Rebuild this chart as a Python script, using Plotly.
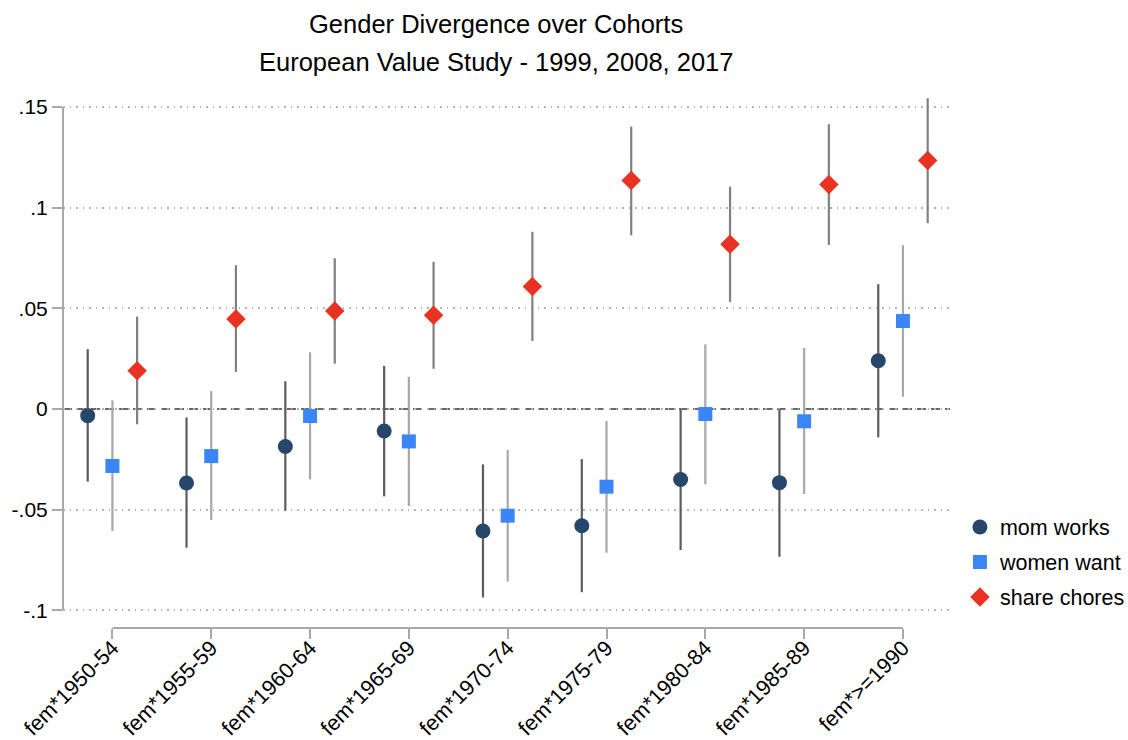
import plotly.graph_objects as go

# Cohort interaction terms (female x birth cohort)
cohorts = ["fem*1950-54", "fem*1955-59", "fem*1960-64", "fem*1965-69", "fem*1970-74",
           "fem*1975-79", "fem*1980-84", "fem*1985-89", "fem*>=1990"]

# Point estimates and 95% confidence bounds per outcome
mom_pt = [-0.0033, -0.0368, -0.0186, -0.0109, -0.0606, -0.0580, -0.0350, -0.0366, 0.0240]
mom_lo = [-0.0361, -0.0689, -0.0505, -0.0434, -0.0936, -0.0910, -0.0701, -0.0734, -0.0141]
mom_hi = [0.0297, -0.0042, 0.0138, 0.0214, -0.0275, -0.0249, 0.0002, 0.0000, 0.0620]

want_pt = [-0.0283, -0.0234, -0.0035, -0.0161, -0.0530, -0.0386, -0.0025, -0.0061, 0.0437]
want_lo = [-0.0606, -0.0552, -0.0350, -0.0482, -0.0857, -0.0714, -0.0374, -0.0422, 0.0061]
want_hi = [0.0043, 0.0089, 0.0282, 0.0160, -0.0204, -0.0060, 0.0321, 0.0303, 0.0814]

chores_pt = [0.0190, 0.0447, 0.0487, 0.0466, 0.0608, 0.1135, 0.0818, 0.1115, 0.1234]
chores_lo = [-0.0076, 0.0184, 0.0225, 0.0200, 0.0338, 0.0863, 0.0532, 0.0815, 0.0923]
chores_hi = [0.0459, 0.0714, 0.0749, 0.0731, 0.0880, 0.1403, 0.1105, 0.1415, 0.1544]

y_ticks = [-0.1, -0.05, 0, 0.05, 0.1, 0.15]
y_tick_text = ["-.1", "-.05", "0", ".05", ".1", ".15"]

FONT = "Liberation Sans, Arial, Helvetica, sans-serif"
AXIS_GRAY = "#a9a9a9"

series = [
    ("mom works", mom_pt, mom_lo, mom_hi, -0.25, "circle", 15, "#27466c", "#5c5c5c"),
    ("women want", want_pt, want_lo, want_hi, 0.0, "square", 14, "#3a86f6", "#a8a8a8"),
    ("share chores", chores_pt, chores_lo, chores_hi, 0.25, "diamond", 15, "#e83323", "#808080"),
]

fig = go.Figure()
for name, pt, lo, hi, off, sym, size, color, ci_color in series:
    fig.add_trace(go.Scatter(
        x=[i + off for i in range(len(cohorts))],
        y=pt,
        mode="markers",
        name=name,
        legendgroup=name,
        marker=dict(symbol=sym, size=size, color=color, line=dict(width=0)),
        error_y=dict(
            type="data", symmetric=False,
            array=[h - p for h, p in zip(hi, pt)],
            arrayminus=[p - l for p, l in zip(pt, lo)],
            color=ci_color, thickness=2.2, width=0,
        ),
    ))

# Zero reference line
fig.add_shape(type="line", xref="paper", x0=0, x1=1, yref="y", y0=0, y1=0,
              line=dict(color="#6a6a6a", width=2.2, dash="9px,5px"), layer="between")
# Y axis spine between the outer ticks
fig.add_shape(type="line", xref="paper", x0=0, x1=0, yref="y", y0=y_ticks[0], y1=y_ticks[-1],
              line=dict(color=AXIS_GRAY, width=2))
# X axis spine between the first and last cohort
fig.add_shape(type="line", xref="x", x0=0, x1=len(cohorts) - 1, yref="paper", y0=0, y1=0,
              line=dict(color=AXIS_GRAY, width=2))

# Two-line title
fig.add_annotation(text="Gender Divergence over Cohorts", xref="paper", yref="paper",
                   x=0.488, y=1.137, showarrow=False, xanchor="center", yanchor="middle",
                   font=dict(size=25.5, color="#000000", family=FONT))
fig.add_annotation(text="European Value Study - 1999, 2008, 2017", xref="paper", yref="paper",
                   x=0.488, y=1.066, showarrow=False, xanchor="center", yanchor="middle",
                   font=dict(size=25.5, color="#000000", family=FONT))

fig.update_layout(
    width=1128, height=740,
    margin=dict(l=63, r=178, t=97, b=112, autoexpand=False),
    paper_bgcolor="white", plot_bgcolor="white",
    font=dict(family=FONT, color="#000000"),
    showlegend=True,
    legend=dict(xref="container", yref="container", x=0.851, xanchor="left",
                y=(740 - 562) / 740, yanchor="middle",
                font=dict(size=21.5, family=FONT, color="#000000"),
                tracegroupgap=4,
                bgcolor="rgba(0,0,0,0)", borderwidth=0),
    xaxis=dict(
        range=[-0.5, 8.476],
        tickmode="array", tickvals=list(range(len(cohorts))), ticktext=cohorts,
        tickangle=-45, tickfont=dict(size=21.5, family=FONT, color="#000000"),
        ticks="outside", ticklen=10, tickwidth=2, tickcolor=AXIS_GRAY,
        ticklabelstandoff=-12,
        showgrid=False, zeroline=False, showline=False, automargin=False,
    ),
    yaxis=dict(
        range=[-0.1088, 0.155],
        tickmode="array", tickvals=y_ticks, ticktext=y_tick_text,
        tickfont=dict(size=21, family=FONT, color="#000000"),
        ticks="outside", ticklen=10, tickwidth=2, tickcolor=AXIS_GRAY,
        showgrid=True, gridcolor="#b4b4b4", gridwidth=1.5, griddash="1.5px,5px",
        zeroline=False, showline=False, automargin=False,
    ),
)

fig.write_html("out.html")
